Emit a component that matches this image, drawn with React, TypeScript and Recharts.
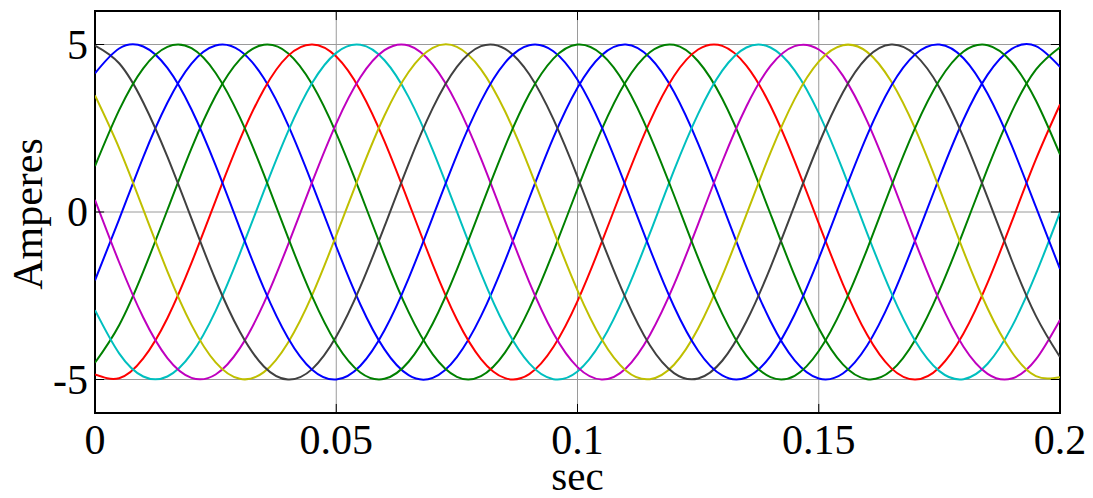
import React from 'react';
import {
  LineChart,
  Line,
  XAxis,
  YAxis,
  CartesianGrid,
  ReferenceArea,
  ReferenceLine,
} from 'recharts';

// Time samples (sec)
const times = [
  0, 0.005, 0.01, 0.015, 0.02, 0.025, 0.03, 0.035, 0.04, 0.045,
  0.05, 0.055, 0.06, 0.065, 0.07, 0.075, 0.08, 0.085, 0.09, 0.095,
  0.1, 0.105, 0.11, 0.115, 0.12, 0.125, 0.13, 0.135, 0.14, 0.145,
  0.15, 0.155, 0.16, 0.165, 0.17, 0.175, 0.18, 0.185, 0.19, 0.195, 0.2,
];

// Phase currents (Amperes)
const phase1 = [
  -2.04, -0.22, 1.64, 3.26, 4.43, 4.97, 4.82, 3.99, 2.6, 0.84,
  -1.03, -2.76, -4.1, -4.87, -4.95, -4.33, -3.11, -1.45, 0.41, 2.22,
  3.71, 4.68, 5.0, 4.61, 3.58, 2.04, 0.22, -1.64, -3.26, -4.43,
  -4.97, -4.82, -3.99, -2.6, -0.84, 1.03, 2.76, 4.1, 4.87, 4.95, 4.33,
];
const phase2 = [
  -4.5, -3.38, -1.78, 0.06, 1.9, 3.47, 4.55, 4.99, 4.74, 3.81,
  2.35, 0.57, -1.3, -2.99, -4.25, -4.92, -4.9, -4.19, -2.89, -1.18,
  0.69, 2.46, 3.89, 4.77, 4.99, 4.5, 3.38, 1.78, -0.06, -1.9,
  -3.47, -4.55, -4.99, -4.74, -3.81, -2.35, -0.57, 1.3, 2.99, 4.25, 4.92,
];
const phase3 = [
  -4.85, -4.96, -4.37, -3.17, -1.52, 0.34, 2.15, 3.66, 4.66, 5.0,
  4.64, 3.63, 2.11, 0.29, -1.57, -3.21, -4.39, -4.96, -4.84, -4.03,
  -2.66, -0.91, 0.96, 2.7, 4.06, 4.85, 4.96, 4.37, 3.17, 1.52,
  -0.34, -2.15, -3.66, -4.66, -5.0, -4.64, -3.63, -2.11, -0.29, 1.57, 3.21,
];
const phase4 = [
  -2.93, -4.22, -4.91, -4.91, -4.23, -2.95, -1.25, 0.62, 2.4, 3.85,
  4.75, 4.99, 4.53, 3.43, 1.85, 0.01, -1.83, -3.42, -4.52, -4.99,
  -4.76, -3.86, -2.42, -0.64, 1.24, 2.93, 4.22, 4.91, 4.91, 4.23,
  2.95, 1.25, -0.62, -2.4, -3.85, -4.75, -4.99, -4.53, -3.43, -1.85, -0.01,
];
const phase5 = [
  0.36, -1.5, -3.15, -4.36, -4.95, -4.85, -4.07, -2.72, -0.98, 0.89,
  2.64, 4.02, 4.83, 4.97, 4.4, 3.22, 1.59, -0.27, -2.09, -3.62,
  -4.63, -5.0, -4.67, -3.67, -2.17, -0.36, 1.5, 3.15, 4.36, 4.95,
  4.85, 4.07, 2.72, 0.98, -0.89, -2.64, -4.02, -4.83, -4.97, -4.4, -3.22,
];
const phase6 = [
  3.48, 1.91, 0.08, -1.77, -3.37, -4.49, -4.98, -4.78, -3.9, -2.48,
  -0.7, 1.17, 2.88, 4.18, 4.9, 4.93, 4.26, 3.0, 1.32, -0.55,
  -2.34, -3.8, -4.73, -4.99, -4.56, -3.48, -1.91, -0.08, 1.77, 3.37,
  4.49, 4.98, 4.78, 3.9, 2.48, 0.7, -1.17, -2.88, -4.18, -4.9, -4.93,
];
const phase7 = [
  4.97, 4.44, 3.27, 1.65, -0.2, -2.03, -3.57, -4.61, -5.0, -4.69,
  -3.72, -2.23, -0.43, 1.44, 3.1, 4.33, 4.95, 4.87, 4.11, 2.77,
  1.05, -0.83, -2.58, -3.98, -4.81, -4.97, -4.44, -3.27, -1.65, 0.2,
  2.03, 3.57, 4.61, 5.0, 4.69, 3.72, 2.23, 0.43, -1.44, -3.1, -4.33,
];
const phase8 = [
  4.14, 4.88, 4.94, 4.3, 3.06, 1.39, -0.48, -2.28, -3.76, -4.71,
  -5.0, -4.59, -3.53, -1.98, -0.15, 1.7, 3.31, 4.46, 4.98, 4.8,
  3.95, 2.54, 0.77, -1.1, -2.82, -4.14, -4.88, -4.94, -4.3, -3.06,
  -1.39, 0.48, 2.28, 3.76, 4.71, 5.0, 4.59, 3.53, 1.98, 0.15, -1.7,
];
const phase9 = [
  1.37, 3.04, 4.29, 4.93, 4.89, 4.15, 2.83, 1.12, -0.76, -2.52,
  -3.93, -4.79, -4.98, -4.47, -3.33, -1.72, 0.13, 1.96, 3.52, 4.58,
  5.0, 4.71, 3.77, 2.29, 0.5, -1.37, -3.04, -4.29, -4.93, -4.89,
  -4.15, -2.83, -1.12, 0.76, 2.52, 3.93, 4.79, 4.98, 4.47, 3.33, 1.72,
];

const xTicks = [0, 0.05, 0.1, 0.15, 0.2];
const xTickLabels = ['0', '0.05', '0.1', '0.15', '0.2'];
const yTicks = [-5, 0, 5];
const yTickLabels = ['-5', '0', '5'];
const xTitle = 'sec';
const yTitle = 'Amperes';

const seriesKeys = ['p1', 'p2', 'p3', 'p4', 'p5', 'p6', 'p7', 'p8', 'p9'];
const seriesValues = [phase1, phase2, phase3, phase4, phase5, phase6, phase7, phase8, phase9];
const seriesColors = [
  '#0000FF', '#008000', '#FF0000', '#00BFBF', '#BF00BF',
  '#BFBF00', '#404040', '#0000FF', '#008000',
];

const data = times.map((t, i) => {
  const row: Record<string, number> = { t };
  seriesKeys.forEach((k, s) => {
    row[k] = seriesValues[s][i];
  });
  return row;
});

const X_DOMAIN: [number, number] = [0, 0.2];
const Y_DOMAIN: [number, number] = [-6, 6];
const FONT = '"Liberation Serif", "Times New Roman", Times, serif';
const TICK_LEN_Y = 0.27; // inward tick length in y units
const TICK_LEN_X = 0.0019; // inward tick length in x units

function XTick(props: any) {
  const { x, y, payload } = props;
  const idx = xTicks.indexOf(payload.value);
  return (
    <text x={x} y={y + 41} textAnchor="middle" fontFamily={FONT} fontSize={42} fill="#000">
      {xTickLabels[idx]}
    </text>
  );
}

function YTick(props: any) {
  const { x, y, payload } = props;
  const idx = yTicks.indexOf(payload.value);
  return (
    <text x={x - 7} y={y + 14} textAnchor="end" fontFamily={FONT} fontSize={42} fill="#000">
      {yTickLabels[idx]}
    </text>
  );
}

function XTitle(props: any) {
  const vb = props.viewBox || { x: 95, y: 413, width: 965, height: 85 };
  return (
    <text
      x={vb.x + vb.width / 2}
      y={vb.y + 77}
      textAnchor="middle"
      fontFamily={FONT}
      fontSize={41}
      fill="#000"
    >
      {xTitle}
    </text>
  );
}

function YTitle(props: any) {
  const vb = props.viewBox || { x: 0, y: 11, width: 95, height: 402 };
  const cx = 42;
  const cy = vb.y + vb.height / 2 + 2;
  return (
    <text
      x={cx}
      y={cy}
      transform={`rotate(-90, ${cx}, ${cy})`}
      textAnchor="middle"
      fontFamily={FONT}
      fontSize={42}
      fill="#000"
    >
      {yTitle}
    </text>
  );
}

export default function App() {
  return (
    <div style={{ position: 'absolute', left: 0, top: 0, background: '#fff' }}>
      <LineChart
        width={1093}
        height={498}
        data={data}
        margin={{ top: 11, right: 33, bottom: 0, left: 0 }}
      >
        <CartesianGrid stroke="#9a9a9a" strokeWidth={1} />
        <XAxis
          dataKey="t"
          type="number"
          domain={X_DOMAIN}
          ticks={xTicks}
          allowDataOverflow
          height={85}
          tickLine={false}
          axisLine={false}
          tickSize={0}
          tickMargin={0}
          tick={<XTick />}
          interval={0}
          label={<XTitle />}
        />
        <YAxis
          type="number"
          domain={Y_DOMAIN}
          ticks={yTicks}
          allowDataOverflow
          width={95}
          tickLine={false}
          axisLine={false}
          tickSize={0}
          tickMargin={0}
          tick={<YTick />}
          interval={0}
          label={<YTitle />}
        />
        {seriesKeys.map((k, s) => (
          <Line
            key={k}
            dataKey={k}
            type="natural"
            stroke={seriesColors[s]}
            strokeWidth={2}
            dot={false}
            activeDot={false}
            isAnimationActive={false}
          />
        ))}
        {xTicks.slice(1, -1).map((v) => (
          <ReferenceLine
            key={`bt${v}`}
            segment={[{ x: v, y: Y_DOMAIN[0] }, { x: v, y: Y_DOMAIN[0] + TICK_LEN_Y }]}
            stroke="#000"
            strokeWidth={1}
          />
        ))}
        {xTicks.slice(1, -1).map((v) => (
          <ReferenceLine
            key={`tt${v}`}
            segment={[{ x: v, y: Y_DOMAIN[1] }, { x: v, y: Y_DOMAIN[1] - TICK_LEN_Y }]}
            stroke="#000"
            strokeWidth={1}
          />
        ))}
        {yTicks.map((v) => (
          <ReferenceLine
            key={`lt${v}`}
            segment={[{ x: X_DOMAIN[0], y: v }, { x: X_DOMAIN[0] + TICK_LEN_X, y: v }]}
            stroke="#000"
            strokeWidth={1}
          />
        ))}
        {yTicks.map((v) => (
          <ReferenceLine
            key={`rt${v}`}
            segment={[{ x: X_DOMAIN[1], y: v }, { x: X_DOMAIN[1] - TICK_LEN_X, y: v }]}
            stroke="#000"
            strokeWidth={1}
          />
        ))}
        <ReferenceArea
          x1={X_DOMAIN[0]}
          x2={X_DOMAIN[1]}
          y1={Y_DOMAIN[0]}
          y2={Y_DOMAIN[1]}
          fill="none"
          fillOpacity={0}
          stroke="#000"
          strokeWidth={2}
          ifOverflow="visible"
        />
      </LineChart>
    </div>
  );
}
